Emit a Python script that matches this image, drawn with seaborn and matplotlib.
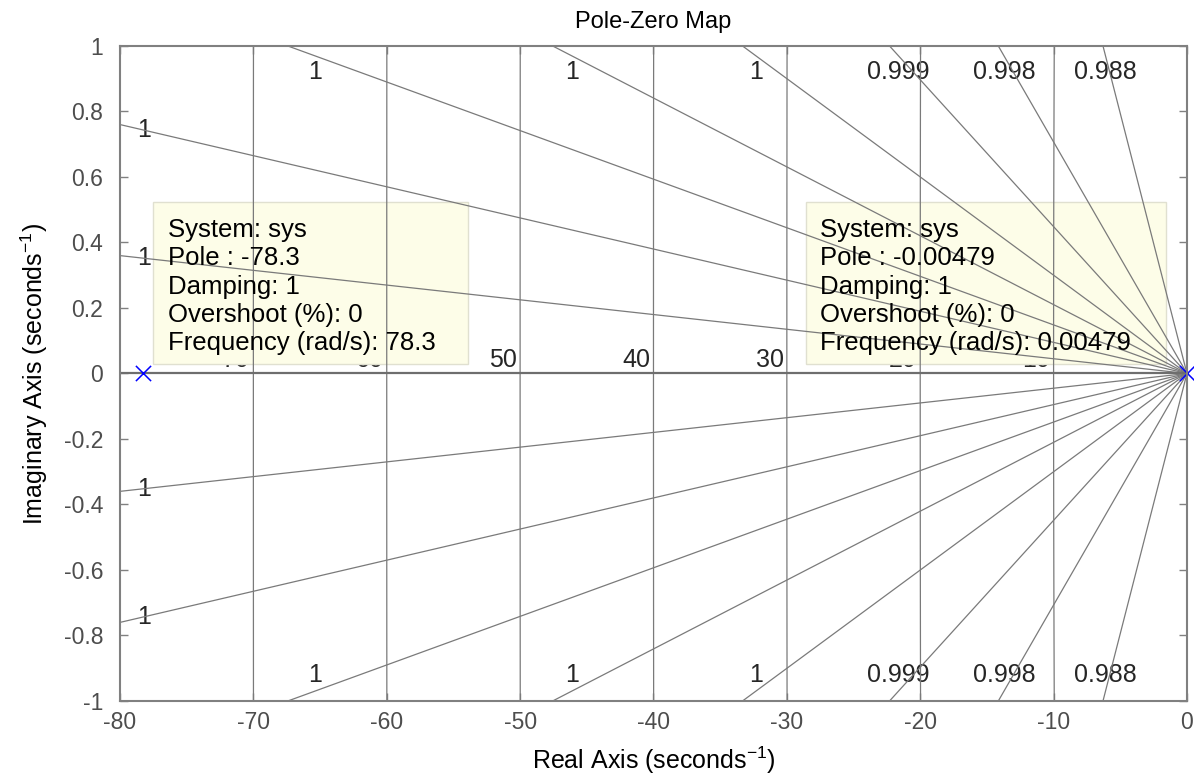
import numpy as np
import pandas as pd
import matplotlib
matplotlib.use("Agg")
import matplotlib.pyplot as plt
import seaborn as sns
from matplotlib.patches import Rectangle

# System poles (real, stable)
poles = [-78.3, -0.00479]
system_name = "sys"

# s-plane grid: damping ratios of the constant-damping rays and natural frequencies
damping_grid = [0.98762, 0.99751, 0.998996, 0.99955, 0.999779, 0.99989,
                0.99995487, 0.99998988]
freq_grid = [10, 20, 30, 40, 50, 60, 70]

x_ticks = [-80, -70, -60, -50, -40, -30, -20, -10, 0]
y_ticks = [-1, -0.8, -0.6, -0.4, -0.2, 0, 0.2, 0.4, 0.6, 0.8, 1]
x_lim = (-80, 0)
y_lim = (-1, 1)

sns.set_theme(style="white")
plt.rcParams["font.family"] = ["Liberation Sans", "DejaVu Sans"]
plt.rcParams["mathtext.fontset"] = "custom"
plt.rcParams["mathtext.rm"] = "Liberation Sans"

GRID = "#7a7a7a"
FRAME = "#808080"
TXT = "#262626"
GRID_FS = 18
TIP_FS = 18.5

fig = plt.figure(figsize=(11.94, 7.78), dpi=100)
ax = fig.add_axes([0.1005, 0.099, 0.8936, 0.8419])
ax.set_xlim(*x_lim)
ax.set_ylim(*y_lim)

# constant-damping rays through the origin
rows = []
for i, z in enumerate(damping_grid):
    slope = np.sqrt(1 - z ** 2) / z
    for sgn in (1, -1):
        for re in (0.0, -400.0):
            rows.append({"ray": f"{i}{sgn}", "re": re, "im": -sgn * slope * re})
rays = pd.DataFrame(rows)
sns.lineplot(data=rays, x="re", y="im", units="ray", estimator=None, sort=False,
             color=GRID, lw=0.9, ax=ax, zorder=4, legend=False)

# constant natural-frequency arcs
rows = []
yy = np.linspace(-1.05, 1.05, 50)
for wn in freq_grid:
    for y in yy:
        rows.append({"wn": wn, "re": -np.sqrt(wn ** 2 - y ** 2), "im": y})
arcs = pd.DataFrame(rows)
sns.lineplot(data=arcs, x="re", y="im", units="wn", estimator=None, sort=False,
             color=GRID, lw=0.9, ax=ax, zorder=4, legend=False)

# real axis
ax.axhline(0, color="#6e6e6e", lw=1.6, zorder=4)

# damping labels
for z in damping_grid:
    slope = np.sqrt(1 - z ** 2) / z
    lab = f"{z:.3g}"
    x_top = -1.0 / slope
    for sgn in (1, -1):
        if x_top > x_lim[0]:
            ax.text(x_top * 0.97, sgn * 0.922, lab, ha="center", va="center",
                    fontsize=GRID_FS, color=TXT, zorder=2)
        else:
            ax.text(-78.2, sgn * slope * 78.2, lab, ha="center", va="center",
                    fontsize=GRID_FS, color=TXT, zorder=2)

# natural frequency labels (partly hidden under the data tips)
for wn in freq_grid:
    ax.text(-wn - 0.25, 0.003, f"{wn}", ha="right", va="bottom",
            fontsize=GRID_FS, color=TXT, zorder=2)

# pole markers
pdf = pd.DataFrame({"re": poles, "im": [0.0] * len(poles)})
sns.scatterplot(data=pdf, x="re", y="im", marker="x", s=120, color="#0000ff",
                linewidth=1.1, ax=ax, zorder=6, legend=False, clip_on=False)

# data tips
boxes = [(-77.53, -53.91), (-28.58, -1.59)]
for p, (x0, x1) in zip(poles, boxes):
    ax.add_patch(Rectangle((x0, 0.029), x1 - x0, 0.4947, facecolor="#fdfde8",
                           edgecolor="#e0e0d0", lw=1.0, zorder=3))
    lines = [f"System: {system_name}",
             f"Pole : {p:.3g}",
             "Damping: 1",
             "Overshoot (%): 0",
             f"Frequency (rad/s): {abs(p):.3g}"]
    for k, s in enumerate(lines):
        ax.text(x0 + 1.1, 0.438 - k * 0.0863, s, ha="left", va="center",
                fontsize=TIP_FS, color="black", zorder=5)

ax.set_xticks(x_ticks)
ax.set_yticks(y_ticks)
ax.set_xticklabels([f"{t:g}" for t in x_ticks])
ax.set_yticklabels([f"{t:g}" for t in y_ticks])
ax.tick_params(direction="in", length=6, width=1, color=FRAME, labelcolor="#4d4d4d",
               labelsize=16.5, top=True, right=True, bottom=True, left=True)
ax.tick_params(axis="x", pad=7)
ax.tick_params(axis="y", pad=12)
for sp in ax.spines.values():
    sp.set_color(FRAME)
    sp.set_linewidth(1.5)
    sp.set_zorder(7)

ax.set_title("Pole-Zero Map", fontsize=17, color="black", pad=13)
ax.set_xlabel("Real Axis (seconds$^{\\mathregular{-1}}$)", fontsize=18, color="black", labelpad=8)
ax.set_ylabel("Imaginary Axis (seconds$^{\\mathregular{-1}}$)", fontsize=18, color="black", labelpad=10)

fig.savefig("out.png", dpi=100)
